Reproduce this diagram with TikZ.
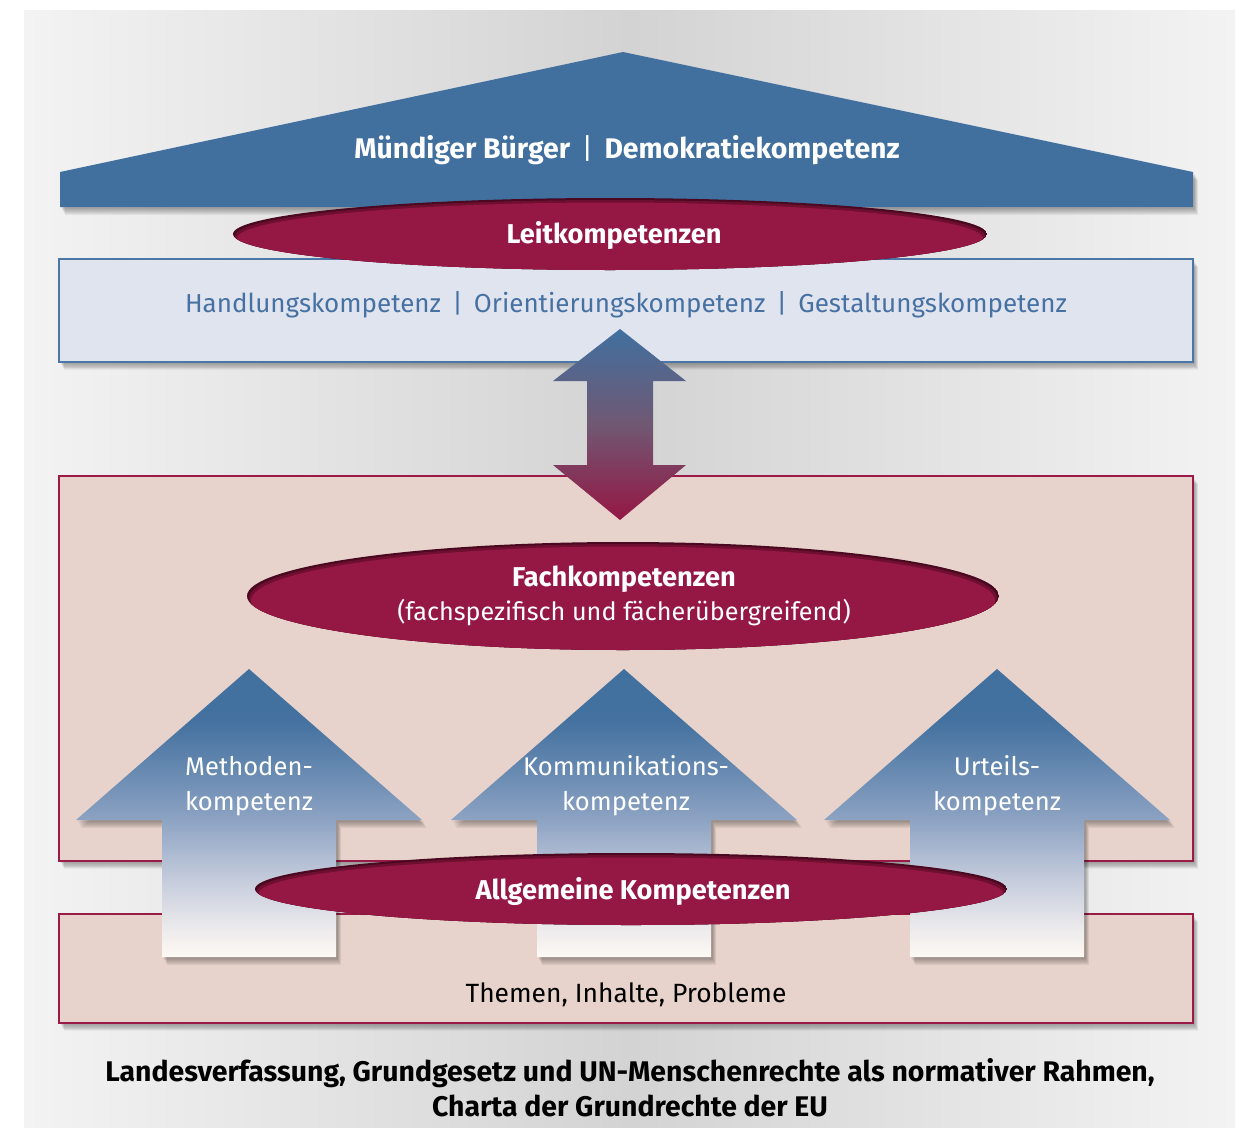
\documentclass[tikz,border=0pt]{standalone}
\usepackage{fontspec}
\setmainfont{Fira Sans}
\usetikzlibrary{calc}
\definecolor{roofblue}{HTML}{41709F}
\definecolor{crimson}{HTML}{951744}
\definecolor{crimsondark}{HTML}{4A0920}
\definecolor{crimsonmid}{HTML}{6E0F30}
\definecolor{pinkfill}{HTML}{E7D3CB}
\definecolor{pinkline}{HTML}{9B1B48}
\definecolor{lblue}{HTML}{DFE4EF}
\definecolor{lblueline}{HTML}{4A77A6}
\definecolor{textblue}{HTML}{4671A2}
\definecolor{bgedge}{HTML}{F3F3F3}
\definecolor{bgmid}{HTML}{D3D3D3}
\definecolor{arrwhite}{HTML}{FDF9F3}
\definecolor{ca}{HTML}{EDEBEC}
\definecolor{cb}{HTML}{C5CCDC}
\definecolor{cc}{HTML}{8DA3C3}
\definecolor{cd}{HTML}{5F84AD}
\definecolor{ce}{HTML}{44719F}
\pgfdeclareverticalshading{upshade}{100bp}{color(0bp)=(arrwhite); color(25bp)=(arrwhite); color(29.7bp)=(ca); color(38.4bp)=(cb); color(48.8bp)=(cc); color(59.2bp)=(cd); color(66bp)=(ce); color(75bp)=(roofblue); color(100bp)=(roofblue)}
\newcommand\softshadow[1]{\foreach \k in {1,...,8}{\fill[black,opacity=0.045,shift={(\k*0.5+1,\k*0.9+1)}] #1;}}
\newcommand\crimsonoval[3]{%
  \begin{scope}
    \clip #1 ellipse [x radius=#2, y radius=#3];
    \fill[crimsondark] #1 ellipse [x radius=#2, y radius=#3];
    \fill[crimsonmid] ($#1+(0,2)$) ellipse [x radius=#2-2, y radius=#3];
    \fill[crimson] ($#1+(0,4.5)$) ellipse [x radius=#2-4, y radius=#3];
  \end{scope}}
\newcommand\uparrowpath[1]{(#1,669) -- (#1+173,820) -- (#1+87,820) -- (#1+87,957) -- (#1-87,957) -- (#1-87,820) -- (#1-173,820) -- cycle}
\tikzset{
  whitebold/.style={text=white, font=\bfseries\fontsize{27.2}{30}\selectfont},
  arrowtext/.style={text=white, font=\fontsize{25.6}{35}\selectfont, align=center},
  boxline/.style={line width=1.8pt}
}
\begin{document}
\begin{tikzpicture}[x=1pt,y=-1pt]
\useasboundingbox (0,0) rectangle (1239,1127);
\fill[white] (0,0) rectangle (1239,1127);
% background
\shade[left color=bgedge, right color=bgedge, middle color=bgmid] (24,10) rectangle (1235,1127);
% roof
\softshadow{(60,207) -- (60,172) -- (623,52) -- (1193,172) -- (1193,207) -- cycle}
\fill[roofblue] (60,207) -- (60,172) -- (623,52) -- (1193,172) -- (1193,207) -- cycle;
% Leitkompetenzen box
\softshadow{(59,259) rectangle (1193,362)}
\filldraw[fill=lblue, draw=lblueline, boxline] (59,259) rectangle (1193,362);
\crimsonoval{(610,234)}{377}{36}
% Fach box
\softshadow{(59,476) rectangle (1193,861)}
\filldraw[fill=pinkfill, draw=pinkline, boxline] (59,476) rectangle (1193,861);
% bottom box
\softshadow{(59,914) rectangle (1193,1023)}
\filldraw[fill=pinkfill, draw=pinkline, boxline] (59,914) rectangle (1193,1023);
% double arrow
\shade[top color=roofblue, bottom color=crimson, middle color={rgb,255:red,112;green,88;blue,115}]
  (620,329) -- (686,381) -- (653,381) -- (653,465) -- (686,465) -- (620,520) -- (553,465) -- (587,465) -- (587,381) -- (553,381) -- cycle;
% Fach ellipse
\crimsonoval{(623,596)}{376}{54}
% up arrows
\foreach \cx in {249,624,997}{
  \softshadow{\uparrowpath{\cx}}
  \shade[shading=upshade] \uparrowpath{\cx};
}
% Allgemeine ellipse
\crimsonoval{(631,889)}{376}{36}
% texts
\node[text=white, font=\bfseries\fontsize{28.4}{30}\selectfont] (roof) at (627,150) {Mündiger Bürger \,{\mdseries|}\, Demokratiekompetenz};
\node[whitebold] (leit) at (614,235) {Leitkompetenzen};
\node[text=textblue, font=\fontsize{26}{30}\selectfont] (hok) at (626,305) {Handlungskompetenz \,|\, Orientierungskompetenz \,|\, Gestaltungskompetenz};
\node[whitebold] (fach) at (624,579) {Fachkompetenzen};
\node[text=white, font=\fontsize{25.2}{30}\selectfont] (fach2) at (624,613) {(fachspezifisch und fächerübergreifend)};
\node[arrowtext] (meth) at (249,786) {Methoden-\\kompetenz};
\node[arrowtext] (komm) at (626,786) {Kommunikations-\\kompetenz};
\node[arrowtext] (urt) at (997,786) {Urteils-\\kompetenz};
\node[whitebold] (allg) at (633,891) {Allgemeine Kompetenzen};
\node[font=\fontsize{26.4}{30}\selectfont] (themen) at (626,995) {Themen, Inhalte, Probleme};
\node[font=\bfseries\fontsize{28.4}{35}\selectfont, align=center] (rahmen) at (630,1088) {Landesverfassung, Grundgesetz und UN-Menschenrechte als normativer Rahmen,\\Charta der Grundrechte der EU};
\end{tikzpicture}
\end{document}
